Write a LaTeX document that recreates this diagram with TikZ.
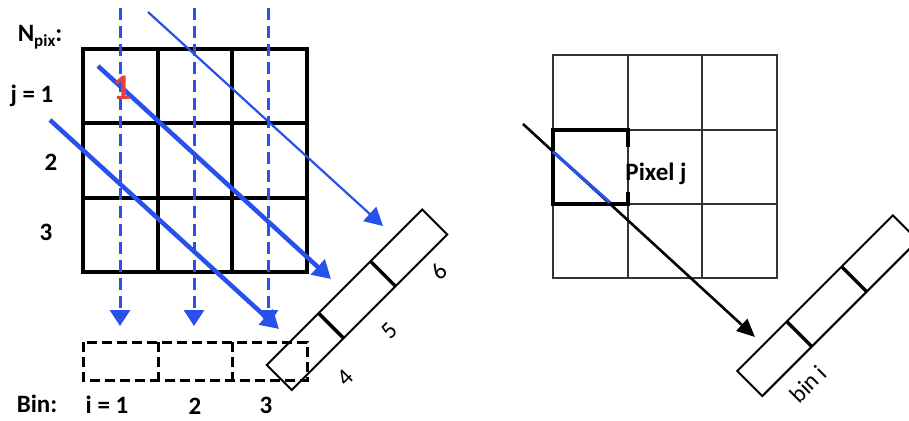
\documentclass[tikz,border=0pt]{standalone}
\usepackage{fontspec}
\setmainfont{Carlito}
\usetikzlibrary{arrows.meta}
\definecolor{rayblue}{RGB}{40,80,235}
\definecolor{numred}{RGB}{232,65,55}
\begin{document}
\begin{tikzpicture}[x=1pt,y=-1pt,
  gridthick/.style={line width=3.4pt,black},
  gridthin/.style={line width=1.6pt,black!80},
  dashray/.style={rayblue,line width=3pt,dash pattern=on 12pt off 6pt,-{Triangle[length=16pt,width=20pt]}},
  thinray/.style={rayblue,line width=2.2pt,-{Triangle[length=18pt,width=19pt]}},
  thickray/.style={rayblue,line width=4.5pt,-{Triangle[length=18pt,width=20pt]}},
  blackray/.style={black,line width=2.6pt,-{Triangle[length=18pt,width=16pt]}},
  binbox/.style={black,line width=3pt,dash pattern=on 10pt off 5pt},
  detframe/.style={black,line width=2pt},
  detdiv/.style={black,line width=3.4pt},
  lab/.style={font=\fontsize{25}{29}\selectfont\bfseries,inner sep=0pt},
  rlab/.style={font=\fontsize{24}{28}\selectfont,inner sep=0pt,rotate=45}
]
\useasboundingbox (0,0) rectangle (909,420);
\clip (0,0) rectangle (909,420);
\fill[white] (0,0) rectangle (909,420);

% ---------- left grid ----------
\draw[gridthick] (83,49) rectangle (307,272);
\foreach \x in {158,232} \draw[gridthick] (\x,49) -- (\x,272);
\foreach \y in {123,198} \draw[gridthick] (83,\y) -- (307,\y);

% dashed bins
\draw[binbox] (83,342) rectangle (307,380);
\foreach \x in {158,232} \draw[binbox] (\x,342) -- (\x,380);

% left detector
\begin{scope}[shift={(266.7,365)},rotate=45]
  \draw[detframe] (0,0) rectangle (220,35.4);
  \draw[detdiv] (73.3,0) -- (73.3,35.4);
  \draw[detdiv] (146.7,0) -- (146.7,35.4);
\end{scope}

% vertical dashed rays
\foreach \x [count=\i] in {120,194,268} {
  \coordinate (vs\i) at (\x,8);
  \coordinate (ve\i) at (\x,326);
  \draw[dashray] (vs\i) -- (ve\i);
}

% oblique rays
\coordinate (ra) at (148,12);  \coordinate (rae) at (383,226);
\coordinate (rb) at (98,66);   \coordinate (rbe) at (331,279);
\coordinate (rc) at (50,120);  \coordinate (rce) at (279,329);
\draw[thinray] (ra) -- (rae);
\draw[thickray] (rb) -- (rbe);
\draw[thickray] (rc) -- (rce);

% labels left
\node[lab] (npix) at (40,37) {N\raisebox{-0.4ex}{\fontsize{17}{17}\selectfont pix}:};
\node[lab] (j1) at (32,96) {j = 1};
\node[lab] (j2) at (51,162) {2};
\node[lab] (j3) at (46,232) {3};
\node[lab,text=numred,font=\fontsize{36}{40}\selectfont\bfseries] (red1) at (122,88) {1};
\node[lab] (bin) at (37,404) {Bin:};
\node[lab] (i1) at (107,405) {i = 1};
\node[lab] (i2) at (195,406) {2};
\node[lab] (i3) at (266,405) {3};
\node[rlab] (d4) at (345,378) {4};
\node[rlab] (d5) at (389,331) {5};
\node[rlab] (d6) at (439,272) {6};

% ---------- right grid ----------
\draw[gridthin] (553,55) rectangle (777,278);
\foreach \x in {628,702} \draw[gridthin] (\x,55) -- (\x,278);
\foreach \y in {130,204} \draw[gridthin] (553,\y) -- (777,\y);
% pixel j
\draw[gridthick] (628,146.7) -- (628,130) -- (553,130) -- (553,204) -- (628,204) -- (628,191.7);
\node[lab] (pixj) at (656,174) {Pixel j};

% right detector
\begin{scope}[shift={(737.3,371)},rotate=45]
  \draw[detframe] (0,0) rectangle (220,35.4);
  \draw[detdiv] (70,0) -- (70,35.4);
  \draw[detdiv] (147.5,0) -- (147.5,35.4);
\end{scope}
\node[rlab] (bini) at (808,384) {bin i};

% black ray with blue segment
\coordinate (bs) at (523,124);
\coordinate (be) at (755,337);
\coordinate (pa) at (553,151.7);
\coordinate (pb) at (610,202.7);
\draw[blackray] (bs) -- (be);
\draw[rayblue,line width=3.2pt] (pa) -- (pb);
\end{tikzpicture}
\end{document}
